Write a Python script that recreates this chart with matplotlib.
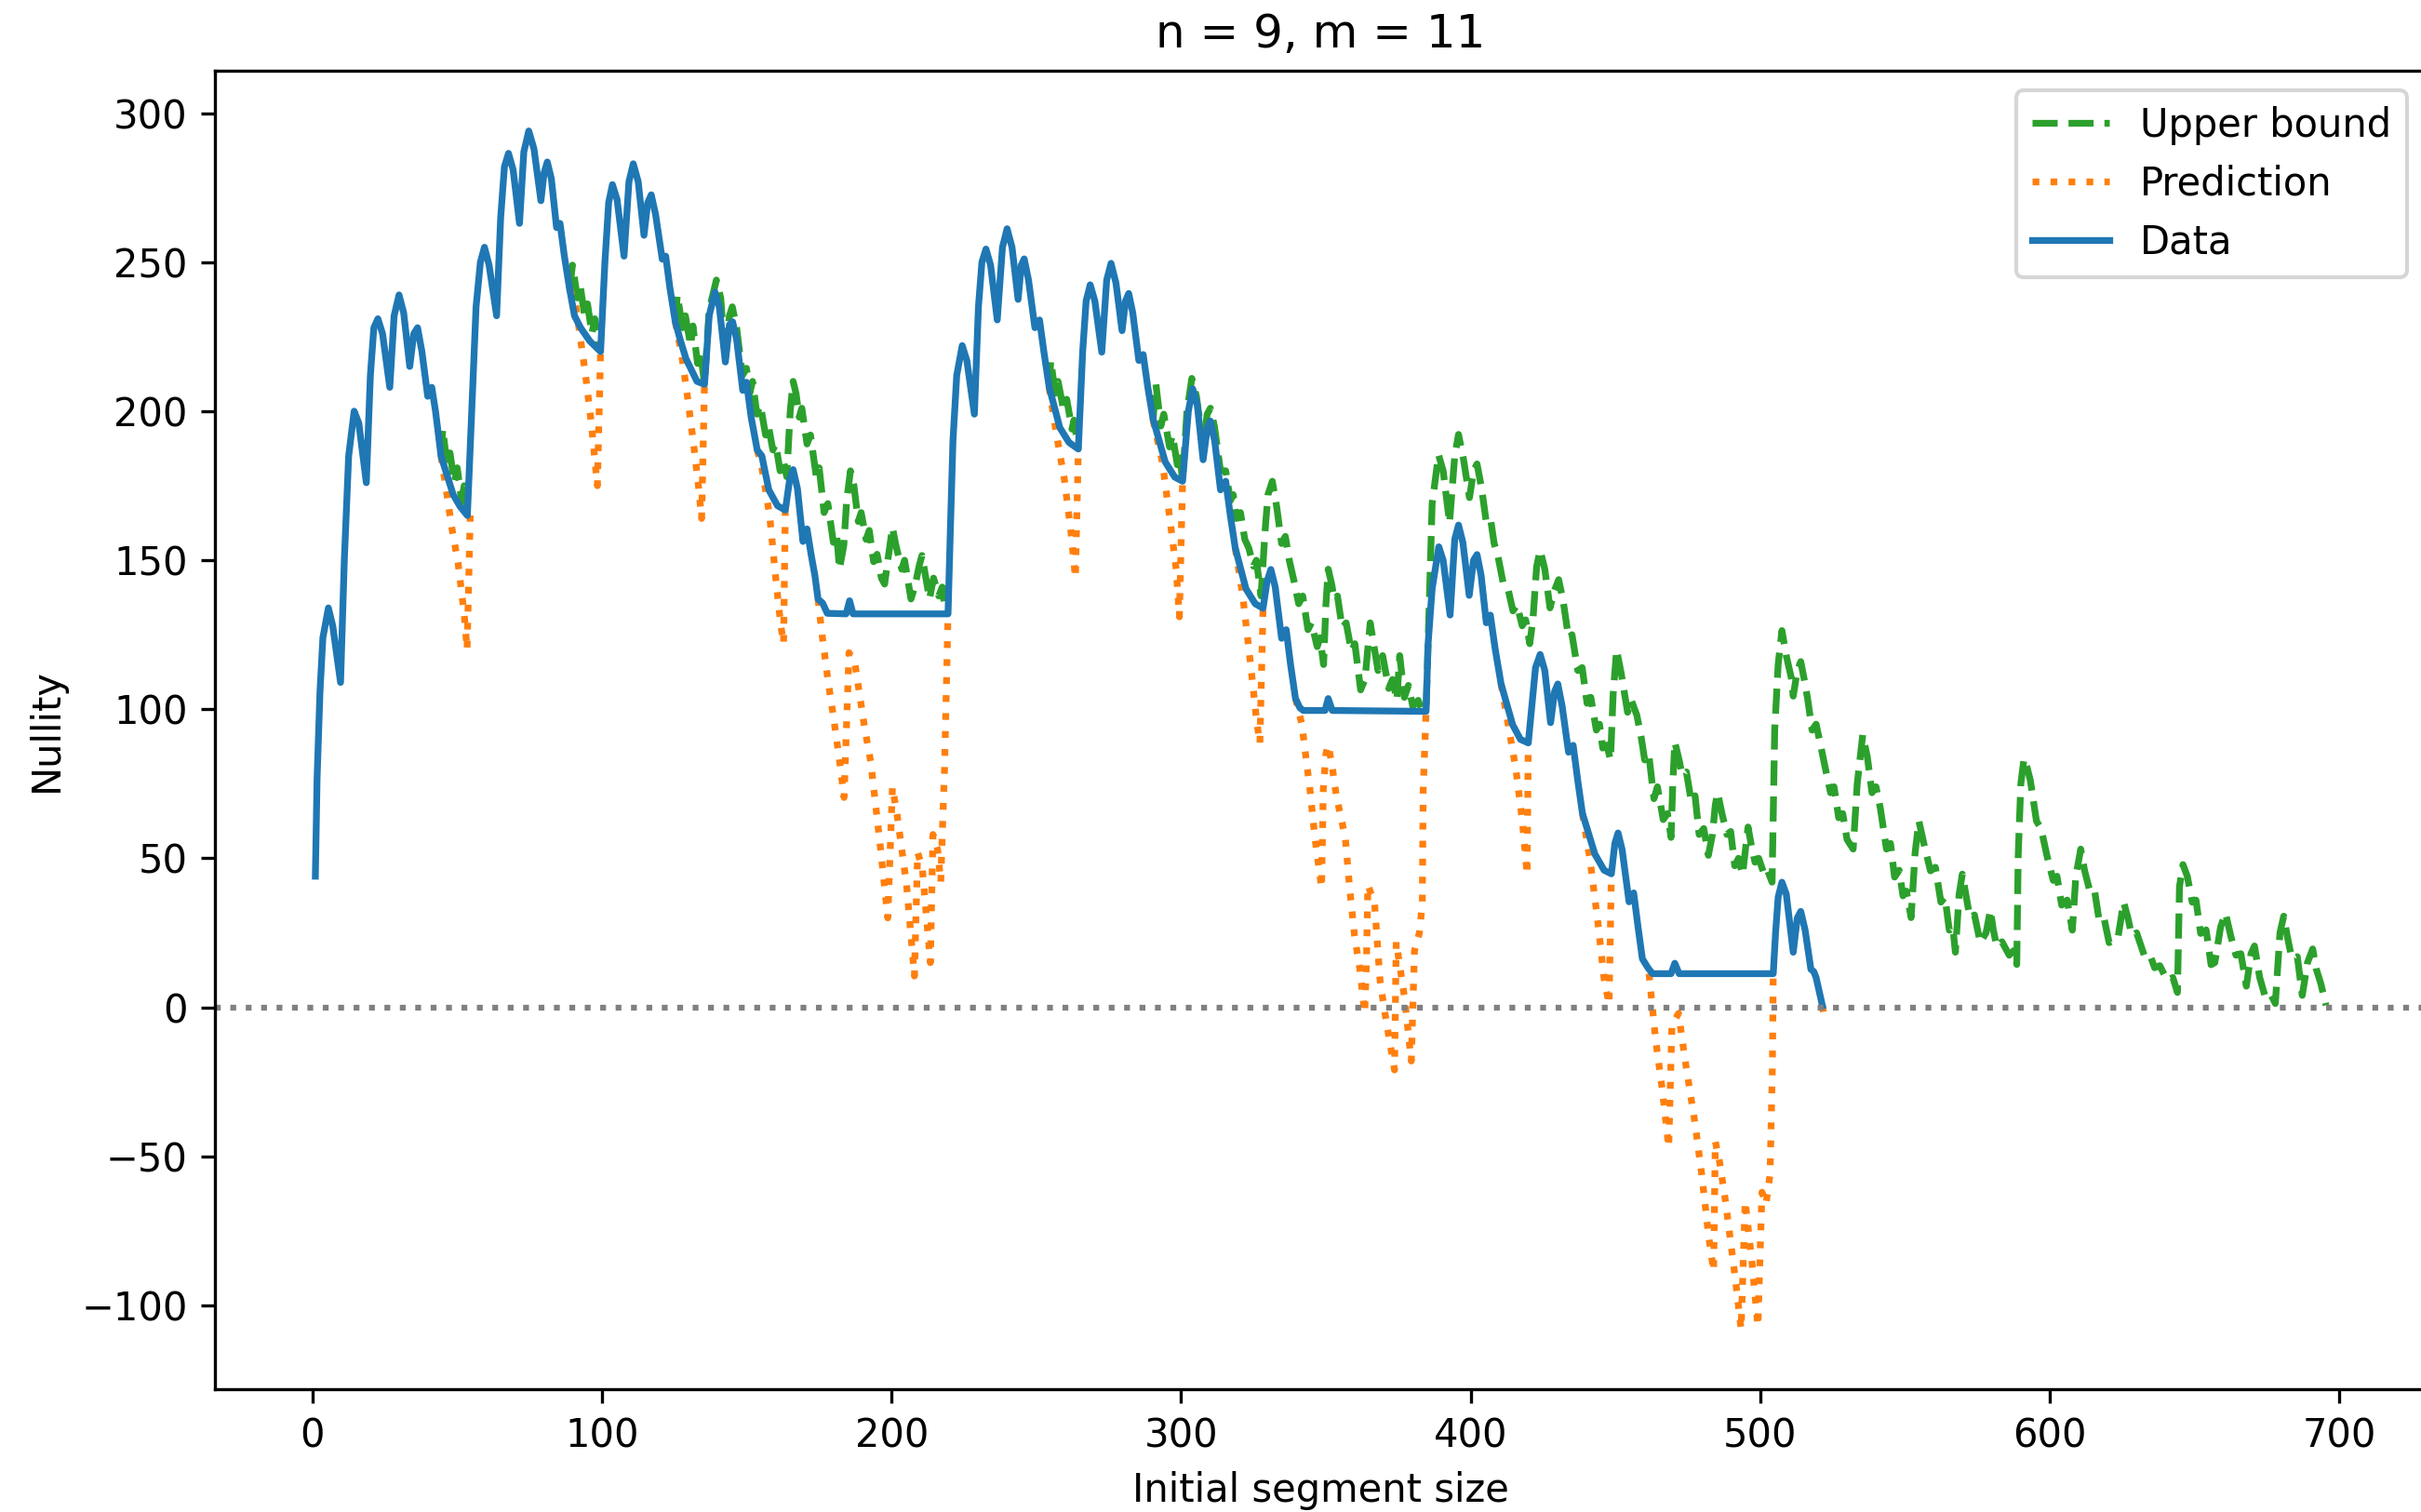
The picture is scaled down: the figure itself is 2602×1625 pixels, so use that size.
import numpy as np
import matplotlib
matplotlib.use("Agg")
import matplotlib.pyplot as plt

nan = np.nan

# Data (blue) - nullity per initial segment size
data_x = [1, 1.6, 2.6, 3.6, 5.5, 7, 9.7,
          11, 12.5, 14.4, 16, 18.6,
          20, 21.2, 22.6, 24.2, 26.7,
          28.2, 29.9, 31.5, 33.6,
          35, 36.3, 37.8, 39.8, 41.2, 42.5, 44.4, 46, 48.6, 51, 53.5,
          55, 56.5, 58, 59.4, 61, 63.6,
          65, 66.3, 67.7, 69.3, 71.5,
          73, 74.7, 76.5, 78.9,
          80, 81.1, 82.5, 84.3, 85.5, 87, 88.8, 90.5, 92.6, 95.8, 99.5,
          101, 102.3, 103.6, 105.2, 107.6,
          109.3, 110.8, 112.5, 114.5,
          115.8, 117, 118.5, 120.8, 122, 123.5, 125.3, 127, 129, 132.8, 135.4,
          137, 139, 140.5, 142.6,
          144, 145.1, 146.5, 148.6, 149.9, 151.5, 153.6, 155.2, 157.6, 160.6, 163.3,
          164.8, 166, 167.5, 169.4, 170.8, 172.2, 173.5, 174.6, 176.2, 177.8,
          184.3, 185.5, 186.7, 219.5,
          220.3, 221.2, 222.5, 224.4, 226, 228.6,
          230, 231.2, 232.6, 234.2, 236.5,
          238.3, 239.9, 241.6, 243.7,
          244.8, 245.8, 247.3, 249.5, 251.1, 252.6, 254.4, 258.1, 261.3, 264.5,
          266, 267.2, 268.6, 270.2, 272.6,
          274.3, 275.8, 277.5, 279.6,
          280.8, 281.9, 283.3, 285.4, 286.9, 288.5, 290.3, 294.5, 297.8, 300.5,
          302.5, 304, 305.6, 307.6,
          309, 310.1, 311.6, 313.6, 315.4, 317, 318.7, 322.4, 325.6, 328.3,
          329.7, 331, 332.5, 334.7, 336.3, 337.8, 339.5, 341, 342.2,
          349.7, 350.8, 352.2, 384.6,
          385.3, 386.7, 389, 390.5, 392.9,
          394.5, 395.8, 397.3, 399.5,
          401, 402.2, 403.6, 405.4, 406.8, 408.5, 410.5, 414.5, 417.2, 419.9,
          422.4, 424, 425.6, 427.6,
          429, 430.1, 431.6, 433.8, 435.4, 437, 438.6, 442.9, 446.1, 448.6,
          449.8, 450.9, 452.3, 454.7, 456.3, 457.8, 459.3, 461.2, 462.8,
          469.2, 470.5, 472, 504.5,
          505.3, 506.2, 507.5, 509, 511.4,
          512.8, 514, 515.5, 517.5, 518.5, 519.3, 521.5]
data_y = [44, 77, 106, 124, 134, 128, 109,
          150, 185, 200, 196, 176,
          212, 228, 231, 226, 208,
          232, 239, 233, 215,
          226, 228, 220, 205, 208, 200, 185, 180, 172, 168, 165,
          200, 235, 250, 255, 249, 232,
          265, 282, 286.5, 281, 263,
          287, 294, 288, 270.6,
          280, 283.6, 278, 261.6, 263, 252, 241, 232, 228, 223.5, 220,
          250, 270, 276, 271, 252,
          277, 283, 277, 259,
          270, 272.6, 266, 251, 252, 241, 230, 224, 217.6, 210, 209,
          232, 240, 235, 216.5,
          229, 230, 224, 207, 209.7, 198, 187, 185, 173.6, 168.3, 166.8,
          177, 180.4, 174, 156.3, 160.5, 152, 145, 137, 135.6, 132.2,
          132, 136.4, 132, 132,
          160, 190, 212, 222, 217, 199,
          235, 250, 254.4, 249, 230.6,
          255, 261.2, 255, 237.5,
          249, 251.1, 244, 228, 230.6, 220, 208.2, 194.5, 189.5, 187.3,
          220, 237, 242.4, 237, 219.8,
          244, 249.6, 243, 227,
          237, 239.5, 233, 217, 219, 208, 197.4, 183, 177.9, 176.5,
          200, 207.5, 202, 183.7,
          194, 196.7, 190, 173.6, 176.5, 165, 154.1, 140.4, 135.4, 133.9,
          143, 146.9, 141, 123.8, 126.7, 115, 103.6, 100.5, 99.6,
          99.6, 103.6, 99.6, 99.3,
          122, 140.5, 154.5, 150, 131.6,
          157, 161.8, 156, 138.2,
          150, 151.9, 145, 129, 131.6, 120, 108.5, 94.8, 89.9, 88.7,
          114, 118.4, 113, 95.5,
          106, 108.5, 101, 85.6, 87.9, 76, 65.1, 51.4, 46, 44.8,
          55, 58.5, 53, 35.4, 38.4, 27, 16.3, 13.3, 11.3,
          11.3, 14.8, 11.3, 11.3,
          25, 37, 42, 38, 18.5,
          30, 32.2, 26, 12.8, 12, 10, 0.5]

# Upper bound (green) - only where it leaves the data line; nan splits segments
bound_x = [44.4, 45, 46.5, 47.5, 49, 50, 51.5, 52.4, 53.5, nan,
           88.8, 89.8, 91.5, 92.5, 94, 95, 96.5, 97.5, 99.5, nan,
           125.3, 126, 127.8, 128.8, 130.6, 131.4, 133, 134, 135.4,
           137, 139.5, 141, 142.6, 144, 145, 146.5, 148.5, 149.9, 151, 152,
           153.5, 154.7, 156.5, 157.5, 159, 160, 161.5, 162.5, 163.8, 165, 166,
           167, 168.1, 169, 170.8, 172, 174, 175, 176.7, 178, 179.9, 181, 182,
           183.5, 184.5, 185.8, 187, 188.5, 189.5, 191.2, 192.3, 193.8, 195,
           196.5, 197.6, 199, 200.3, 201.5, 203.5, 204.5, 206.7, 208, 209.5,
           210.5, 211.5, 213.1, 214.5, 216.3, 217.5, 218.5, 219.5, nan,
           254.4, 255, 256.5, 257.5, 259.5, 260.5, 262.3, 263, 264.5, nan,
           290.3, 291.3, 293, 294, 296, 297, 298.7, 299.5, 300.5,
           302, 303.7, 305.3, 307.6, 309, 310.1, 311.5, 313.6, 315.4, 317, 318,
           319.1, 320.5, 322, 323.4, 325, 326, 327.6, 329, 330, 331.5, 333,
           334.7, 336, 337.4, 339, 340.6, 342, 343.8, 345, 347, 348, 349.2, 350,
           350.8, 352, 352.9, 354, 355.6, 357, 358.8, 360, 362, 363.5, 365.3,
           366.5, 368, 369.6, 371.7, 373, 374.5, 375.5, 377.1, 378.5, 380,
           381.9, 383, 384.6, 385.1, 386.7, 388.9, 390.5, 392.7, 394.5, 395.8,
           397.5, 399.6, 401, 402.2, 403.8, 405.5, 407, 408.1, 409.5, 411.3,
           413, 414.6, 416, 417.8, 419, 420.4, 421.5, 422.8, 424, 425.6, 427.4,
           429, 430.4, 432, 433.8, 435, 437, 438.5, 440.2, 441.5, 443.4, 444.5,
           445.6, 447, 448.3, 449.2, 450.4, 452, 454.2, 455.5, 457.4, 459,
           460.1, 461.5, 463.3, 464.5, 466.5, 468, 469.2, 469.8, 470.5, 472,
           473, 474.5, 476.2, 477.5, 478.9, 480.5, 482.1, 483.5, 484.5, 485.3,
           486.8, 488.5, 489.8, 491.2, 492.5, 493.9, 494.8, 495.8, 497, 498.2,
           499.5, 501.4, 502.5, 504.1, 505, 506.2, 507.5, 509, 510.7, 511.4,
           512.8, 514, 515.2, 516.4, 517.9, 519.3, 520.7, 522.9, 524.3, 525.5,
           527.1, 528.5, 530, 532.1, 533.5, 535.4, 537, 538.6, 540, 541.5,
           543.6, 545, 546.4, 548, 549.3, 550.5, 552.1, 553.5, 554.8, 556.5,
           558.8, 560.5, 562.4, 563.8, 565.3, 566.5, 567.4, 568.7, 569.8, 571,
           572.4, 574, 576, 578, 579.5, 580.5, 581.7, 583.5, 586, 587.5, 588.6,
           589.1, 590, 591.1, 592.3, 593.3, 595.4, 597, 599, 601.2, 602.5,
           604.1, 606, 607.8, 609, 610.7, 612, 614, 615.5, 616.9, 618.5, 620.5,
           622, 623.5, 625.5, 627, 628.3, 630, 632.6, 634.5, 636.2, 638, 640.5,
           642.5, 644.1, 644.8, 646, 647.5, 649.2, 650.5, 652.1, 654, 655.7,
           657, 659, 660.7, 662.5, 664.3, 666, 667.9, 669.5, 670.7, 672.5,
           674.3, 676, 677.9, 679.5, 680.8, 682, 683.6, 685.5, 687.2, 689,
           690.8, 692, 693.6, 695.4]
bound_y = [185, 194, 182, 186, 176, 181, 170, 175, 165, nan,
           241, 249, 238, 242, 232, 236, 226, 231, 220, nan,
           230, 239, 228, 232, 222, 228.6, 216, 220, 209,
           234, 244, 238, 217, 232, 235, 228, 212, 214.4, 206, 210,
           199, 202, 192, 195, 187, 189, 180, 184, 178, 200, 210,
           206, 198, 201, 189, 192, 178, 181, 166, 169, 156, 159, 147,
           155, 170, 180, 175, 163, 166, 157, 160, 149.5, 152,
           144, 142, 152, 161, 155, 147, 150, 137, 141, 148,
           151.6, 146, 137, 144, 138, 141, 133, 132, nan,
           208, 217, 206, 210, 200, 204, 194, 197, 187.3, nan,
           197, 209, 195, 199, 188, 192, 182, 186, 176.5,
           200, 211, 205, 188, 199, 201, 195, 180, 180, 170, 172,
           164, 166, 157, 154, 148, 150, 138, 160, 172, 176.5, 168,
           155.6, 158, 149.8, 143, 135.4, 138, 126.7, 129, 121, 124, 115, 135,
           147, 142, 136.8, 138, 127.4, 129, 119.5, 122, 106.5, 110, 129,
           122, 113, 118, 107, 110, 103, 118, 104, 108, 101,
           103, 100, 100, 116, 169, 185.4, 180, 162.5, 185, 192.2,
           184, 171, 180, 182.3, 174, 162, 163, 155.7, 151, 142,
           140, 133, 135, 128, 130, 122, 130, 148, 153.4, 147, 134,
           140, 143.5, 136, 124, 125, 113, 114, 102, 104, 93, 95,
           87, 88, 83, 105, 120, 112, 99, 103, 98, 90,
           83, 85, 70, 74, 63, 65, 57, 75, 89, 83,
           78, 79, 69, 71, 58, 60, 51, 58, 68, 72,
           65, 58, 59, 47.5, 50, 44.5, 52, 60.5, 54, 48.7,
           50, 44.5, 46, 42, 93, 115, 126.4, 118, 110.7, 104.4,
           113, 116, 110, 103.4, 93, 95, 88.7, 78.3, 72, 74,
           63.6, 65, 56.3, 53.1, 75, 91.4, 84, 72, 74, 66.7,
           53.1, 55, 43.7, 46, 37.4, 39, 30.1, 52, 62.5, 55,
           45.8, 47, 35.3, 37, 25.9, 27, 18.5, 38, 44.7, 38,
           30.1, 31, 21.7, 25, 32.7, 26, 20.4, 22, 17.5, 19, 14.4,
           51, 75, 83.5, 80, 76.1, 62.5, 60, 51, 42.6, 44,
           34.3, 36, 25.9, 44, 53.1, 46, 38.4, 39, 30.1, 31, 21.7,
           22.5, 23, 35.3, 30, 24.1, 25, 17.5, 18, 13.3, 14, 9.1,
           10, 5, 40.5, 47.9, 44, 35.3, 36, 24.8, 26, 14.3,
           15, 27, 31.6, 24, 17.5, 18, 7.1, 18, 20.6, 10,
           3.9, 5, 1.3, 25, 30.6, 24, 16.4, 17, 4, 15,
           19.6, 13, 8, 0.7]

# Prediction (orange) - only where it leaves the data line
pred_x = [44.4, 46, 48.1, 50.3, 52.4, 53.4, 54.5, nan,
          88.8, 91, 94.2, 96.3, 98.4, 99.5, nan,
          125.3, 127.5, 129.5, 131.5, 133.3, 134.4, 135.4, nan,
          153.6, 155.2, 157.9, 160, 161.7, 162.7, 163.3, nan,
          174.6, 176, 178, 180, 182, 183.6, 185.3, 187.4, 190.6, 192.8, 196,
          198.7, 200.3, 202, 205.2, 207.9, 209, 210.6, 213.4, 214.3, 215.9,
          217, 217.5, 218.3, 219.5, nan,
          254.4, 257, 259.7, 261.9, 263.5, 264.5, nan,
          290.3, 293.5, 296.1, 298.3, 299.4, 300.5, nan,
          318.7, 321.3, 324, 326.1, 327.2, 328.3, nan,
          339.5, 341.7, 344.5, 346.2, 348.5, 349.1, 350, 350.8, 352, 353.6,
          356.7, 358.2, 359.9, 361.7, 363.4, 364, 364.5, 366.8, 368.7, 370.4,
          373.7, 374.3, 377.2, 379.5, 380.6, 382.3, 383.3, 383.6, 384.6, nan,
          410.5, 412.4, 415.6, 417.8, 419.5, 419.9, nan,
          438.6, 441.3, 444, 446.1, 447.8, 448.6, nan,
          461.6, 463.9, 466.1, 468.4, 469.5, 471.8, 474.1, 477.5, 479.8, 482.1,
          483.9, 484.5, 486, 488, 491.4, 493.4, 494.8, 497.1, 499.2, 500.6,
          502, 503.4, 504.2, 504.5, nan,
          521.5, 521.8]
pred_y = [185, 175, 161, 149, 132, 120, 165, nan,
          241, 235, 213, 196, 175, 220, nan,
          230, 219, 205, 190, 175, 164, 209, nan,
          187, 181, 165, 144, 128.5, 122, 166.8, nan,
          137, 125, 110, 97, 83, 70.4, 119, 115, 94.4, 82.4, 55,
          30, 74, 64, 41, 10.5, 52, 47, 15, 58, 53,
          42, 58, 80, 132, nan,
          208, 192, 177, 160, 144, 187.3, nan,
          197, 183, 164, 147, 131, 176.5, nan,
          154, 138, 115, 96, 88.5, 133.9, nan,
          103.6, 95, 73, 57, 40, 73, 85, 88, 82, 71,
          57, 40, 24, 13, -2, 15, 41, 35, 9, -2,
          -21, 22, 3, -18, 19, 25, 35, 73, 99.3, nan,
          108.5, 98, 80, 63, 44.5, 88.7, nan,
          65, 49, 28, 9.4, 1, 44.8, nan,
          11.3, -11, -27, -47, -6, -2, -18, -39, -56, -76,
          -88.5, -45, -52, -65, -91, -108, -65, -85, -107, -62,
          -66, -56, -20, 11.3, nan,
          0.5, -1.5]

fig = plt.figure(figsize=(2603 / 300, 1625 / 300), dpi=300)
ax = fig.add_axes([0.0887, 0.0812, 0.9132, 0.8718])

lw = 1.75
ax.plot(bound_x, bound_y, color='tab:green', linestyle='--', lw=lw, label='Upper bound')
ax.plot(pred_x, pred_y, color='tab:orange', linestyle=':', lw=lw, label='Prediction')
ax.plot(data_x, data_y, color='tab:blue', lw=lw, label='Data')
ax.axhline(0, color='gray', linestyle=':', lw=1.5)

ax.set_xticks([0, 100, 200, 300, 400, 500, 600, 700])
ax.set_yticks([-100, -50, 0, 50, 100, 150, 200, 250, 300])
ax.set_xlabel('Initial segment size')
ax.set_ylabel('Nullity')
ax.set_title('n = 9, m = 11')
ax.legend(loc='upper right')

fig.savefig('out.png', dpi=300)
